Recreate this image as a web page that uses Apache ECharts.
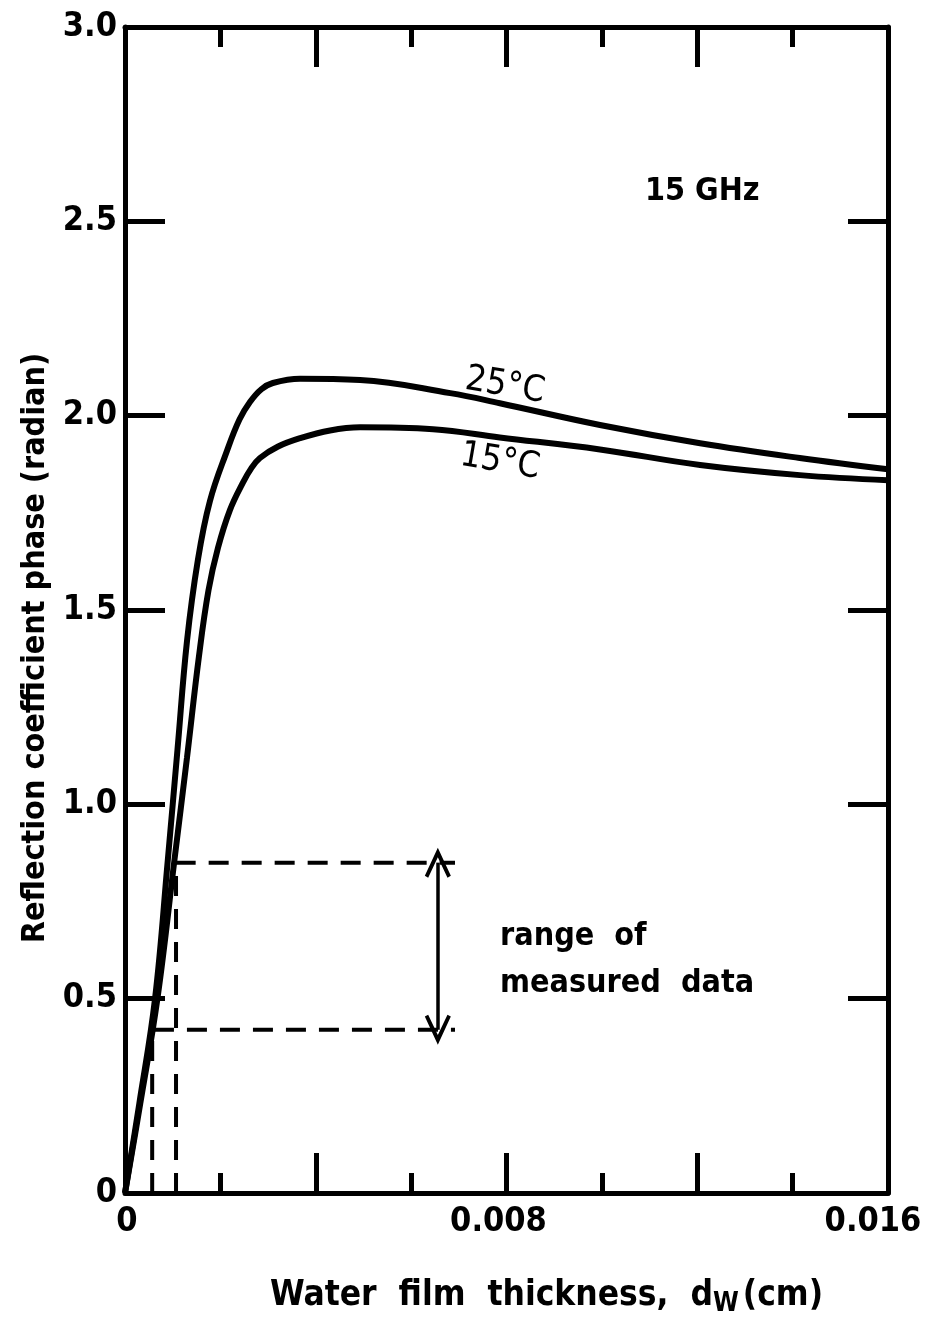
<!DOCTYPE html>
<html>
<head>
<meta charset="utf-8">
<script src="https://cdn.jsdelivr.net/npm/echarts@6/dist/echarts.min.js"></script>
<style>
  html, body { margin: 0; padding: 0; background: #fff; }
  #chart { width: 930px; height: 1324px; }
</style>
</head>
<body>
<div id="chart"></div>
<script>
// water film thickness (cm) and reflection coefficient phase (rad)
const thick25 = [0, 0.00030, 0.00063, 0.00090, 0.00110, 0.00130, 0.00153, 0.00178, 0.00214, 0.00240, 0.00262, 0.00286, 0.00310, 0.00367, 0.00493, 0.00682, 0.00786, 0.00996, 0.01206, 0.01415, 0.016];
const phase25 = [0, 0.23, 0.50, 0.86, 1.14, 1.42, 1.63, 1.78, 1.91, 1.99, 2.035, 2.068, 2.084, 2.095, 2.092, 2.058, 2.032, 1.976, 1.929, 1.891, 1.862];

const thick15 = [0, 0.00032, 0.00068, 0.00104, 0.00130, 0.00155, 0.00175, 0.00195, 0.00220, 0.00247, 0.00265, 0.00283, 0.00320, 0.00367, 0.00430, 0.00493, 0.00646, 0.00786, 0.00996, 0.01206, 0.01415, 0.016];
const phase15 = [0, 0.23, 0.50, 0.86, 1.12, 1.38, 1.55, 1.66, 1.757, 1.827, 1.865, 1.891, 1.920, 1.942, 1.962, 1.970, 1.965, 1.944, 1.913, 1.873, 1.847, 1.834];

// range of measured data
const rangePhase = [0.42, 0.85];
const rangeThick = [0.00057, 0.00107];
const rangeLineEnd = 0.00692;
const arrowThick = 0.00656;

const xLabels = { 0: '{a|0}', 0.008: '{b|0.008}', 0.016: '{c|0.016}' };

const FONT = "'DejaVu Sans Condensed', 'Liberation Sans Narrow', sans-serif";

function zip(xs, ys) {
  return xs.map((x, i) => [x, ys[i]]);
}

const chart = echarts.init(document.getElementById('chart'));

const axisLine = { show: true, onZero: false, lineStyle: { color: '#000', width: 5 } };
const tickBase = { show: true, inside: true, length: 40, lineStyle: { color: '#000', width: 5 } };
const minorBase = { show: true, splitNumber: 2, length: 20, lineStyle: { color: '#000', width: 5 } };
const labelFont = { color: '#000', fontFamily: FONT, fontSize: 34, fontWeight: 'bold' };

const dashStyle = { color: '#000', width: 4, type: [20, 13] };
const vHead = 'path://M0,0 L7,16 L5.2,17 L0,5.5 L-5.2,17 L-7,16 Z';

chart.setOption({
  animation: false,
  backgroundColor: '#fff',
  grid: { left: 125, right: 42, top: 27, bottom: 131, outerBoundsMode: 'none', containLabel: false },
  xAxis: [{
    type: 'value',
    min: 0,
    max: 0.016,
    interval: 0.004,
    position: 'bottom',
    axisLine,
    axisTick: tickBase,
    minorTick: minorBase,
    splitLine: { show: false },
    axisLabel: {
      ...labelFont,
      margin: 12,
      showMinLabel: true,
      showMaxLabel: true,
      formatter: (v) => xLabels[Math.round(v * 1000) / 1000] || '',
      rich: {
        a: { ...labelFont, padding: [0, 0, 0, 4] },
        b: { ...labelFont, padding: [0, 16, 0, 0] },
        c: { ...labelFont, padding: [0, 30, 0, 0] }
      }
    },
    name: '{t|Water  film  thickness,  d}{s|W}{t|(cm)}',
    nameLocation: 'middle',
    nameGap: 82,
    nameTextStyle: {
      padding: [0, 0, 0, 80],
      rich: {
        t: { fontFamily: FONT, fontSize: 35, fontWeight: 'bold', color: '#000' },
        s: { fontFamily: FONT, fontSize: 26, fontWeight: 'bold', color: '#000', verticalAlign: 'bottom', padding: [16, 4, 0, 0] }
      }
    }
  }, {
    type: 'value',
    min: 0,
    max: 0.016,
    interval: 0.004,
    position: 'top',
    axisLine,
    axisTick: tickBase,
    minorTick: minorBase,
    splitLine: { show: false },
    axisLabel: { show: false }
  }],
  yAxis: [{
    type: 'value',
    min: 0,
    max: 3,
    interval: 0.5,
    position: 'left',
    axisLine,
    axisTick: tickBase,
    splitLine: { show: false },
    axisLabel: {
      ...labelFont,
      margin: 8,
      formatter: (v) => (v === 0 ? '0' : v.toFixed(1))
    },
    name: 'Reflection coefficient phase (radian)',
    nameLocation: 'middle',
    nameGap: 72,
    nameTextStyle: { fontFamily: FONT, fontSize: 32, fontWeight: 'bold', color: '#000', padding: [0, 76, 0, 0] }
  }, {
    type: 'value',
    min: 0,
    max: 3,
    interval: 0.5,
    position: 'right',
    axisLine,
    axisTick: tickBase,
    splitLine: { show: false },
    axisLabel: { show: false }
  }],
  series: [{
    name: '25°C',
    type: 'line',
    data: zip(thick25, phase25),
    smooth: 0.4,
    showSymbol: false,
    lineStyle: { color: '#000', width: 6 },
    z: 5
  }, {
    name: '15°C',
    type: 'line',
    data: zip(thick15, phase15),
    smooth: 0.4,
    showSymbol: false,
    lineStyle: { color: '#000', width: 6 },
    z: 5
  }, {
    name: 'range low',
    type: 'line',
    data: [[rangeThick[0], 0], [rangeThick[0], rangePhase[0]], [rangeLineEnd, rangePhase[0]]],
    showSymbol: false,
    lineStyle: dashStyle
  }, {
    name: 'range high',
    type: 'line',
    data: [[rangeThick[1], 0], [rangeThick[1], rangePhase[1]], [rangeLineEnd, rangePhase[1]]],
    showSymbol: false,
    lineStyle: dashStyle,
    markLine: {
      silent: true,
      symbol: [vHead, vHead],
      symbolSize: [26, 30],
      label: { show: false },
      lineStyle: { color: '#000', width: 3.5, type: 'solid' },
      data: [[{ coord: [arrowThick, rangePhase[0]] }, { coord: [arrowThick, rangePhase[1]] }]]
    }
  }],
  graphic: [
    { type: 'text', left: 645, top: 176, style: { text: '15 GHz', font: `bold 32px ${FONT}`, fill: '#000' } },
    { type: 'text', x: 505, y: 386, rotation: -0.17, style: { text: '25°C', font: `36px ${FONT}`, fill: '#000', align: 'center', verticalAlign: 'middle' } },
    { type: 'text', x: 500, y: 462, rotation: -0.17, style: { text: '15°C', font: `36px ${FONT}`, fill: '#000', align: 'center', verticalAlign: 'middle' } },
    { type: 'text', left: 500, top: 921, style: { text: 'range  of', font: `bold 32px ${FONT}`, fill: '#000' } },
    { type: 'text', left: 500, top: 968, style: { text: 'measured  data', font: `bold 32px ${FONT}`, fill: '#000' } }
  ]
});
</script>
</body>
</html>
